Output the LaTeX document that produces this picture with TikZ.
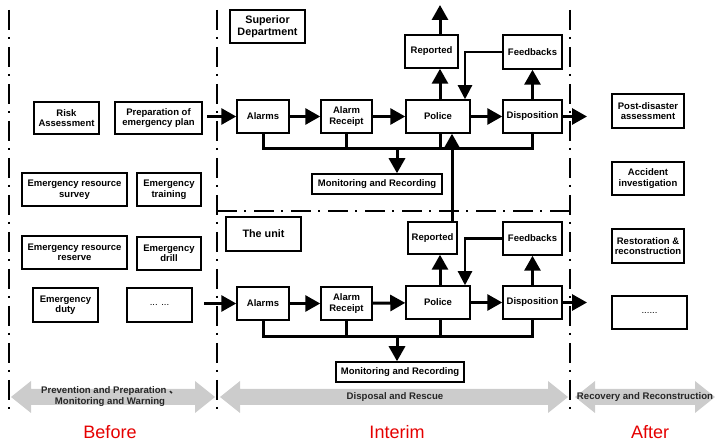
\documentclass[tikz,border=0pt]{standalone}
\usepackage{fontspec}
\setmainfont{Liberation Sans}
\newfontfamily\cjk{Noto Sans CJK SC}
\usetikzlibrary{arrows.meta,calc}
\begin{document}
\begin{tikzpicture}[x=1pt,y=-1pt,
  box/.style={draw,line width=1.5pt,align=center,inner sep=1pt,
    font=\bfseries\fontsize{9.5}{10.5}\selectfont},
  bigbox/.style={box,font=\bfseries\fontsize{10.8}{12}\selectfont},
  arr/.style={line width=3pt,-{Triangle[length=15pt,width=16pt]}},
  fb/.style={line width=2.2pt,-{Triangle[length=14pt,width=14pt]}},
  bus/.style={line width=3pt},
  dd/.style={line width=1.6pt,dash pattern=on 20pt off 7pt on 2pt off 8pt},
  garr/.style={fill=gray!40,draw=none},
  glab/.style={align=center,text=black!85,font=\bfseries\fontsize{9.6}{11}\selectfont},
  phase/.style={text=red!90!black,font=\fontsize{18}{20}\selectfont}]
\useasboundingbox (0,0) rectangle (715,443);

% dash-dot separators
\draw[dd] (9,10) -- (9,410);
\draw[dd] (217,10) -- (217,410);
\draw[dd] (570,10) -- (570,410);
\draw[dd] (217,211) -- (570,211);

% Before column
\node[box,minimum width=65,minimum height=32] (risk) at (66.5,118) {Risk\\Assessment};
\node[box,minimum width=87,minimum height=32] (prep) at (158.5,118) {Preparation of\\emergency plan};
\node[box,minimum width=105,minimum height=33] (survey) at (74.5,189.5) {Emergency resource\\survey};
\node[box,minimum width=64,minimum height=33] (training) at (169,189.5) {Emergency\\training};
\node[box,minimum width=105,minimum height=33] (reserve) at (74.5,252.5) {Emergency resource\\reserve};
\node[box,minimum width=64,minimum height=33] (drill) at (169,253.5) {Emergency\\drill};
\node[box,minimum width=65,minimum height=34] (duty) at (65.5,305) {Emergency\\duty};
\node[box,font=\fontsize{9.5}{10.5}\selectfont,minimum width=65,minimum height=34] (dots1) at (159.5,305) {... ...};

% Superior department
\node[bigbox,minimum width=75,minimum height=33] (sup) at (267.5,26.5) {Superior\\Department};
\node[box,minimum width=52,minimum height=33] (alarms1) at (263,116.5) {Alarms};
\node[box,minimum width=51,minimum height=33] (receipt1) at (346.5,116.5) {Alarm\\Receipt};
\node[box,minimum width=64,minimum height=33] (police1) at (438,116.5) {Police};
\node[box,minimum width=59,minimum height=33] (disp1) at (532.5,116.5) {Disposition};
\node[box,minimum width=53,minimum height=33] (rep1) at (431.5,51.5) {Reported};
\node[box,minimum width=59,minimum height=34] (feed1) at (532.5,52) {Feedbacks};
\node[box,minimum width=130,minimum height=20] (mon1) at (377,184) {Monitoring and Recording};

% The unit
\node[bigbox,minimum width=75,minimum height=34] (unit) at (263.5,234) {The unit};
\node[box,minimum width=52,minimum height=33] (alarms2) at (263,303.5) {Alarms};
\node[box,minimum width=51,minimum height=33] (receipt2) at (346.5,303.5) {Alarm\\Receipt};
\node[box,minimum width=64,minimum height=33] (police2) at (438,302.5) {Police};
\node[box,minimum width=59,minimum height=33] (disp2) at (532.5,302.5) {Disposition};
\node[box,minimum width=49,minimum height=32] (rep2) at (432.5,238) {Reported};
\node[box,minimum width=59,minimum height=33] (feed2) at (532.5,238.5) {Feedbacks};
\node[box,minimum width=128,minimum height=20] (mon2) at (400,372) {Monitoring and Recording};

% After column
\node[box,minimum width=72,minimum height=34] (post) at (648,111) {Post-disaster\\assessment};
\node[box,minimum width=72,minimum height=33] (accident) at (648,178.5) {Accident\\investigation};
\node[box,minimum width=72,minimum height=34] (restore) at (648,246) {Restoration \&\\reconstruction};
\node[box,font=\fontsize{9.5}{10.5}\selectfont,minimum width=75,minimum height=33] (dots2) at (649.5,312.5) {......};

% helper coordinates
\coordinate (in1) at (207,116.5);
\coordinate (in2) at (204,303.5);
\coordinate (out1) at (587,116.5);
\coordinate (out2) at (587,302.5);
\coordinate (up1) at (440,5);
\coordinate (b1) at (397,149);
\coordinate (b2) at (397,337);
\coordinate (fbx) at (465,0);
\coordinate (vx) at (452,0);

% upper flow
\draw[arr] (in1) -- (alarms1.west);
\draw[arr] (alarms1) -- (receipt1);
\draw[arr] (receipt1) -- (police1);
\draw[arr] (police1) -- (disp1);
\draw[arr] (disp1.east) -- (out1);
\draw[arr] (police1.north -| up1) -- (rep1.south -| up1);
\draw[arr] (rep1.north -| up1) -- (up1);
\draw[arr] (disp1.north -| feed1.south) -- (feed1.south);
\draw[fb] (feed1.west) -- (feed1.west -| fbx) -- (police1.north -| fbx);
\draw[bus,line join=miter] (alarms1.south) -- (alarms1.south |- b1) -- (disp1.south |- b1) -- (disp1.south);
\draw[bus] (receipt1.south) -- (receipt1.south |- b1);
\draw[bus] (police1.south -| up1) -- (b1 -| up1);
\draw[arr] (b1) -- (b1 |- mon1.north);

% lower flow
\draw[arr] (in2) -- (alarms2.west);
\draw[arr] (alarms2) -- (receipt2);
\draw[arr] (receipt2) -- (police2);
\draw[arr] (police2) -- (disp2);
\draw[arr] (disp2.east) -- (out2);
\draw[arr] (police2.north -| up1) -- (rep2.south -| up1);
\draw[arr] (rep2.north -| vx) -- (police1.south -| vx);
\draw[arr] (disp2.north -| feed2.south) -- (feed2.south);
\draw[fb] (feed2.west) -- (feed2.west -| fbx) -- (police2.north -| fbx);
\draw[bus,line join=miter] (alarms2.south) -- (alarms2.south |- b2) -- (disp2.south |- b2) -- (disp2.south);
\draw[bus] (receipt2.south) -- (receipt2.south |- b2);
\draw[bus] (police2.south -| up1) -- (b2 -| up1);
\draw[arr] (b2) -- (b2 |- mon2.north);

% gray phase arrows
\fill[garr] (11,397) -- (31,381) -- (31,389) -- (195,389) -- (195,381) -- (215,397) -- (195,413) -- (195,405) -- (31,405) -- (31,413) -- cycle;
\fill[garr] (220,397) -- (240,381) -- (240,389) -- (548,389) -- (548,381) -- (568,397) -- (548,413) -- (548,405) -- (240,405) -- (240,413) -- cycle;
\fill[garr] (575,397) -- (595,381) -- (595,389) -- (695,389) -- (695,381) -- (715,397) -- (695,413) -- (695,405) -- (595,405) -- (595,413) -- cycle;
\node[glab] (l1) at (110,397) {Prevention and Preparation {\cjk 、}\\Monitoring and Warning};
\node[glab] (l2) at (395,397) {Disposal and Rescue};
\node[glab] (l3) at (645,397) {Recovery and Reconstruction};

% phase titles
\node[phase] (before) at (110,432) {Before};
\node[phase] (interim) at (397,432) {Interim};
\node[phase] (after) at (650,432) {After};
\end{tikzpicture}
\end{document}
